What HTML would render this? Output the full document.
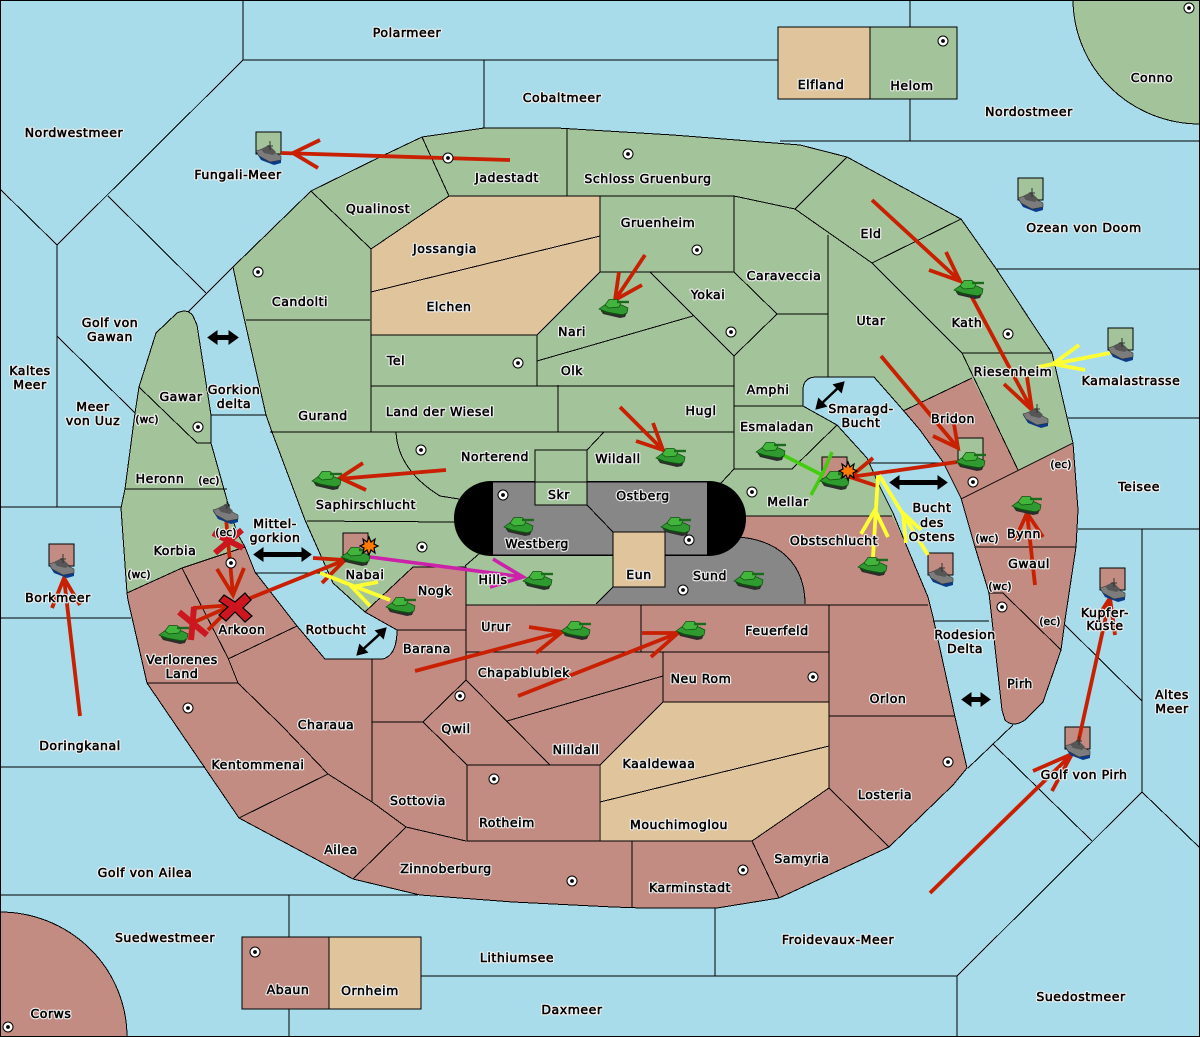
<!DOCTYPE html>
<html><head><meta charset="utf-8"><style>
html,body{margin:0;padding:0;background:#a8dcea}
svg{display:block}
text{font-family:"DejaVu Sans","Liberation Sans",sans-serif;font-size:12.5px;letter-spacing:.55px;text-anchor:middle;fill:#050505;stroke-linejoin:round}
text.s{font-size:10.5px;letter-spacing:.2px}
.l{fill:none;stroke:#000;stroke-width:1;shape-rendering:crispEdges}
.r{fill:none;stroke:#c82000;stroke-width:3.8}
.y{fill:none;stroke:#ffff33;stroke-width:3.8}
.g{fill:none;stroke:#44cc11;stroke-width:3.6}
.m{fill:none;stroke:#cc22aa;stroke-width:3.6}
.x{fill:none;stroke:#cc1620;stroke-width:6}
</style></head><body>
<svg xmlns="http://www.w3.org/2000/svg" xmlns:xlink="http://www.w3.org/1999/xlink" width="1200" height="1037" viewBox="0 0 1200 1037">
<defs>
<g id="tank">
<path d="M1,10 L4,15 L21,19 L26,18 L29,11 Z" fill="#2c2c2c"/>
<path d="M0,10 L7,5 L23,6 L29,9 L28,14 L23,16 L8,13 Z" fill="#2f9a2f" stroke="#124f12" stroke-width=".7"/>
<path d="M6,6 L10,0.500 L18,0.500 L22,4 L20,8 L10,9 Z" fill="#42b53c" stroke="#124f12" stroke-width=".7"/>
<path d="M18,3 L30,3" stroke="#1c6a1c" stroke-width="2.400" fill="none"/>
<path d="M2,12 L9,14 L25,16" stroke="#124f12" fill="none"/>
</g>
<g id="ship">
<path d="M0,10 L5,18 L18,23 L25,21 L25,17 Z" fill="#0a3a8a"/>
<path d="M0,9 L10,6 L25,14 L25,18 L14,20 L3,14 Z" fill="#7c7c7c" stroke="#333" stroke-width=".6"/>
<path d="M5,7 L13,3 L20,10 L17,13 L8,11 Z" fill="#565656"/>
<path d="M14,-1 L14,8 M11,4 L17,4" stroke="#333" fill="none"/>
</g>
<g id="dot"><circle r="5" fill="#fff" stroke="#000" stroke-width="1"/><circle r="1.900" fill="#000"/></g>
<polygon id="star" points="0,-9 2,-4 6,-7 5,-2 9,0 5,2 6,7 2,4 0,9 -2,4 -6,7 -5,2 -9,0 -5,-2 -6,-7 -2,-4" fill="#ff7a00" stroke="#000" stroke-width="1.200"/>
</defs>
<rect width="1200" height="1037" fill="#a8dcea"/>
<path fill="#a3c49a" d="M233,267 L311,191 L380,157 L422,137 L484,128 L557,128 L673,135 L800,145 L847,157 L961,219 L997,270 L1052,353 L1073,443 L1078,510 L1076,547 L1065,620 L1061,650 L1043,702 L1025,720 Q1013,728 1005,720 L1002,710 L989,593 L975,547 L961,498 L943,462 L920,430 L903,410 L874,377 L815,377 Q803,378 803,390 L803,406 L837,425 L867,458 L880,487 L893,513 L907,547 L928,597 L933,617 L955,717 L967,768 L953,785 L889,847 L779,898 L717,908 L643,908 L613,907 L513,902 L420,895 L353,879 L239,818 L147,683 L128,600 L127,593 L121,508 L125,489 L135,413 L139,387 L156,333 L177,313 Q188,308 193,316 L197,325 L211,415 L211,443 L227,500 L237,533 L245,547 L255,572 L297,626 L325,659 L383,659 Q397,655 397,630 L365,612 L333,583 L305,520 L272,432 L266,415 L240,300 Z"/>
<g fill="#c28c82">
<path d="M127,593 L182,568 L245,547 L255,572 L297,626 L325,659 L383,659 Q397,655 397,630 L365,612 L413,567 L466,567 L466,605 L596,604 L613,587 L665,555 L707,555 L745,516 L892,516 L907,547 L928,597 L933,617 L955,717 L967,768 L953,785 L889,847 L779,898 L717,908 L643,908 L613,907 L513,902 L420,895 L353,879 L239,818 L147,683 L128,600 Z"/>
<path d="M903,411 L972,378 L1018,470 L961,499 L943,462 L920,430 Z"/>
<path d="M961,499 L1018,470 L1073,443 L1078,510 L1076,547 L1065,620 L1061,650 L1043,702 L1025,720 Q1013,728 1005,720 L1002,710 L989,593 L975,547 Z"/>
<path d="M0,912 A127,125 0 0 1 127,1037 L0,1037 Z"/>
<rect x="242" y="937" width="87" height="72"/>
</g>
<path d="M1073,0 A127,125 0 0 0 1200,124 L1200,0 Z" fill="#a3c49a"/>
<g fill="#e0c49c">
<polygon points="449,196 600,196 600,272 537,335 371,335 371,249"/>
<polygon points="663,702 829,702 829,788 752,841 599,841 599,765"/>
<rect x="778" y="27" width="92" height="72"/>
<rect x="329" y="937" width="92" height="72"/>
</g>
<rect x="870" y="27" width="87" height="72" fill="#a3c49a"/>
<path d="M665,555 L707,555 L738,537 C780,540 805,565 805,604 L596,604 L613,587 L665,587 Z" fill="#878787"/>
<rect x="454" y="481" width="292" height="75" rx="37" ry="37" fill="#000"/>
<rect x="493" y="482" width="214" height="73" fill="#878787"/>
<rect x="535" y="450" width="52" height="55" fill="#a3c49a"/>
<rect x="613" y="532" width="52" height="55" fill="#e0c49c"/>
<g class="l">
<path d="M233,267 L311,191 L380,157 L422,137 L484,128 L557,128 L673,135 L800,145 L847,157 L961,219 L997,270 L1052,353 L1073,443 L1078,510 L1076,547 L1065,620 L1061,650 L1043,702 L1025,720 Q1013,728 1005,720 L1002,710 L989,593 L975,547 L961,498 L943,462 L920,430 L903,410 L874,377 L815,377 Q803,378 803,390 L803,406 L837,425 L867,458 L880,487 L893,513 L907,547 L928,597 L933,617 L955,717 L967,768 L953,785 L889,847 L779,898 L717,908 L643,908 L613,907 L513,902 L420,895 L353,879 L239,818 L147,683 L128,600 L127,593 L121,508 L125,489 L135,413 L139,387 L156,333 L177,313 Q188,308 193,316 L197,325 L211,415 L211,443 L227,500 L237,533 L245,547 L255,572 L297,626 L325,659 L383,659 Q397,655 397,630 L365,612 L333,583 L305,520 L272,432 L266,415 L240,300 Z"/>
<path d="M311,191 L371,249 L449,196 M422,137 L449,196 M567,129 L567,196 M449,196 L734,196 L795,209 L847,157 M795,209 L872,263 L961,219 M600,196 L600,272 L734,272 L734,196 M600,272 L537,335 M650,272 L734,356 L777,314 L734,272 M537,361 L693,316 M537,335 L537,386 M371,386 L734,386 M371,249 L371,432 M371,335 L537,335 M371,292 L600,236 M734,356 L734,469 L792,469 L837,425 M734,406 L803,406 M777,314 L828,314 M828,235 L828,377 M872,263 L917,308 L962,353 L1052,353 M962,353 L1018,470 M903,411 L972,378 M961,499 L1073,443 M975,547 L1076,547 M989,593 L1003,593 L1061,650"/>
<path d="M270,432 L734,432 M558,385 L558,432 M246,320 L370,320 M396,432 Q398,470 440,496 L459,499 M307,521 L455,522 M604,432 L587,450 M465,566 L480,553 M734,469 L721,483 M587,505 L613,532"/>
<path d="M535,450 H587 V505 H535 Z M613,532 H665 V587 H613 Z M493,482 H707 M493,555 H613 M665,555 H707"/>
<path d="M127,593 L182,568 L245,547 M365,612 L413,567 L466,567 L466,605 M596,604 L613,587 M745,516 L892,516 M738,537 C780,540 805,565 805,604"/>
<path d="M466,605 L466,680 M466,652 L829,652 M641,605 L641,652 M466,605 L928,605 M663,652 L663,702 L829,702 M829,605 L829,788 M829,716 L955,716 M397,630 L466,630 M466,680 L423,722 L467,765 L550,765 L466,680 M507,721 L663,676 M663,702 L600,765 L467,765 M467,765 L467,841 L752,841 M600,765 L600,841 M372,722 L423,722 M372,659 L372,802 M328,774 L372,802 L406,827 L466,841 M406,827 L353,879 M239,818 L328,774 M147,683 L238,683 L283,727 L328,774 M228,659 L297,626 M182,568 L228,658 L238,683 M632,841 L632,908 M752,841 L779,898 M829,788 L889,847 M752,841 L829,788 M600,802 L829,746"/>
<path d="M139,387 L197,443 L211,443 M125,489 L227,489"/>
<path d="M243,0 L243,60 L778,60 M243,60 L57,245 L0,189 M108,196 L206,293 M233,267 L188,312 M57,245 L57,507 M57,336 L135,413 M0,507 L121,507 M0,618 L131,618 M0,767 L205,767 M0,895 L418,895 M289,895 L289,937 M289,1009 L289,1037 M421,976 L957,976 M715,908 L715,976 M957,976 L957,1037 M957,976 L1142,792 L1200,848 M1142,529 L1142,792 M1078,529 L1200,529 M1068,418 L1200,418 M997,269 L1200,269 M780,141 L1200,141 M910,0 L910,27 M910,99 L910,141 M484,60 L484,128 M1065,625 L1142,701 M1013,725 L968,768 M993,744 L1092,841 M933,621 L989,621 M868,463 L947,463 M211,415 L266,415 M255,573 L327,573"/>
<path d="M1073,0 A127,125 0 0 0 1200,124 M0,912 A127,125 0 0 1 127,1037"/>
<path d="M778,27 H957 V99 H778 Z M870,27 V99 M242,937 H421 V1009 H242 Z M329,937 V1009"/>
</g>
<rect x=".5" y=".5" width="1199" height="1036" fill="none" stroke="#000"/>
<g stroke="#000" stroke-width="1" shape-rendering="crispEdges">
<rect x="256" y="132" width="25" height="22" fill="#a3c49a"/>
<rect x="1018" y="178" width="25" height="22" fill="#a3c49a"/>
<rect x="1108" y="328" width="25" height="22" fill="#a3c49a"/>
<rect x="958" y="438" width="25" height="22" fill="#a3c49a"/>
<rect x="49" y="544" width="25" height="22" fill="#c28c82"/>
<rect x="343" y="533" width="25" height="22" fill="#c28c82"/>
<rect x="822" y="457" width="25" height="22" fill="#c28c82"/>
<rect x="928" y="553" width="25" height="22" fill="#c28c82"/>
<rect x="1100" y="568" width="25" height="22" fill="#c28c82"/>
<rect x="1065" y="727" width="25" height="22" fill="#c28c82"/>
</g>
<g fill="#000" stroke="#000" stroke-linejoin="miter">
<path d="M208,337.500 L217,331 L217,335.500 L229,335.500 L229,331 L238,337.500 L229,344 L229,339.500 L217,339.500 L217,344 Z"/>
<path d="M254,554.500 L263,548 L263,552.500 L302,552.500 L302,548 L311,554.500 L302,561 L302,556.500 L263,556.500 L263,561 Z"/>
<path d="M890,482.500 L899,476 L899,480.500 L938,480.500 L938,476 L947,482.500 L938,489 L938,484.500 L899,484.500 L899,489 Z"/>
<path d="M962,699.500 L971,693 L971,697.500 L981,697.500 L981,693 L990,699.500 L981,706 L981,701.500 L971,701.500 L971,706 Z"/>
</g>
<path d="M360,652 L382,632 M358,654 L366,652 L360,646 Z M385,629 L377,631 L383,637 Z M819,406 L840,386 M817,408 L825,406 L819,400 Z M843,383 L835,385 L841,391 Z" fill="#000" stroke="#000" stroke-width="2.500"/>
<g>
<path class="r" d="M510,160 L281,153 M320,140 L293,153 L318,168"/>
<path class="r" d="M446,470 L338,479 M363,463 L340,478 L366,490"/>
<path class="r" d="M645,255 L615,300 M619,272 L615,300 L642,285"/>
<path class="r" d="M620,407 L663,450 M653,423 L663,450 L636,441"/>
<path class="r" d="M872,200 L960,281 M946,252 L960,281 L929,270"/>
<path class="r" d="M967,288 L1032,410 M1027,377 L1032,410 L1004,384"/>
<path class="r" d="M881,356 L958,448 M954,424 L958,448 L933,436"/>
<path class="r" d="M957,462 L850,477 M873,458 L850,477 L877,486"/>
<path class="r" d="M1035,585 L1027,513 M1015,540 L1027,513 L1043,537"/>
<path class="r" d="M1077,748 L1110,598 M1097,618 L1110,598 L1115,635"/>
<path class="r" d="M930,893 L1072,754 M1033,771 L1072,754 L1052,791"/>
<path class="r" d="M80,716 L64,578 M52,608 L64,578 L80,605"/>
<path class="r" d="M233,605 L345,560 M313,558 L345,560 L322,583"/>
<path class="r" d="M192,623 L233,605 M193,608 L233,605 L208,630"/>
<path class="r" d="M226,518 L233,595 M217,569 L233,595 L244,568"/>
<path class="r" d="M415,671 L562,632 M529,627 L562,632 L536,653"/>
<path class="r" d="M518,696 L678,633 M642,633 L678,633 L651,657"/>
<path class="x" d="M215,553 L242,530 M213,533 L243,548 M179,612 L207,635 M194,607 L191,640"/>
<path d="M224,595 L235,602 L245,593 L251,600 L243,608 L252,616 L245,622 L235,612 L226,621 L219,615 L228,607 L219,601 Z" fill="#cc1620" stroke="#000" stroke-width="1.200"/>
<path class="y" d="M1110,353 L1038,367 M1079,345 L1053,364 L1085,370"/>
<path class="y" d="M390,600 L320,573 M378,582 L352,587 L370,606"/>
<path class="y" d="M873,557 L878,476 M861,534 L875,510 L888,537"/>
<path class="y" d="M928,555 L879,475 M906,543 L903,513 L921,530"/>
<path class="g" d="M783,455 L822,475 M832,452 L822,475 L811,495"/>
<path class="m" d="M370,557 L523,577 M493,559 L523,577 L490,587"/>
</g>
<g>
<use xlink:href="#tank" x="312" y="471"/><use xlink:href="#tank" x="341" y="547"/><use xlink:href="#tank" x="386" y="597"/>
<use xlink:href="#tank" x="159" y="625"/><use xlink:href="#tank" x="599" y="299"/><use xlink:href="#tank" x="656" y="448"/>
<use xlink:href="#tank" x="504" y="517"/><use xlink:href="#tank" x="661" y="517"/><use xlink:href="#tank" x="523" y="571"/>
<use xlink:href="#tank" x="734" y="571"/><use xlink:href="#tank" x="756" y="442"/><use xlink:href="#tank" x="820" y="471"/>
<use xlink:href="#tank" x="956" y="452"/><use xlink:href="#tank" x="858" y="557"/><use xlink:href="#tank" x="1012" y="496"/>
<use xlink:href="#tank" x="954" y="280"/><use xlink:href="#tank" x="561" y="621"/><use xlink:href="#tank" x="676" y="621"/>
<use xlink:href="#ship" x="256" y="142"/><use xlink:href="#ship" x="1018" y="189"/><use xlink:href="#ship" x="1108" y="339"/>
<use xlink:href="#ship" x="1023" y="405"/><use xlink:href="#ship" x="49" y="555"/><use xlink:href="#ship" x="213" y="501"/>
<use xlink:href="#ship" x="928" y="564"/><use xlink:href="#ship" x="1100" y="579"/><use xlink:href="#ship" x="1065" y="737"/>
<use xlink:href="#star" x="369" y="546"/><use xlink:href="#star" x="848" y="471"/>
</g>
<g>
<use xlink:href="#dot" x="448" y="158"/><use xlink:href="#dot" x="628" y="154"/><use xlink:href="#dot" x="697" y="250"/>
<use xlink:href="#dot" x="943" y="41"/><use xlink:href="#dot" x="258" y="272"/><use xlink:href="#dot" x="1008" y="334"/>
<use xlink:href="#dot" x="518" y="363"/><use xlink:href="#dot" x="731" y="332"/><use xlink:href="#dot" x="198" y="427"/>
<use xlink:href="#dot" x="421" y="450"/><use xlink:href="#dot" x="503" y="495"/><use xlink:href="#dot" x="973" y="482"/>
<use xlink:href="#dot" x="752" y="492"/><use xlink:href="#dot" x="422" y="547"/><use xlink:href="#dot" x="689" y="540"/>
<use xlink:href="#dot" x="683" y="590"/><use xlink:href="#dot" x="231" y="563"/><use xlink:href="#dot" x="460" y="696"/>
<use xlink:href="#dot" x="1002" y="607"/><use xlink:href="#dot" x="813" y="677"/><use xlink:href="#dot" x="948" y="762"/>
<use xlink:href="#dot" x="188" y="708"/><use xlink:href="#dot" x="494" y="779"/><use xlink:href="#dot" x="572" y="881"/>
<use xlink:href="#dot" x="743" y="870"/><use xlink:href="#dot" x="255" y="952"/><use xlink:href="#dot" x="8" y="1027"/>
<use xlink:href="#dot" x="1189" y="8"/>
</g>
<g style="stroke:#f0f0f0;stroke-width:2.8px;paint-order:stroke">
<g id="labels">
<text x="407" y="37">Polarmeer</text><text x="562" y="102">Cobaltmeer</text><text x="821" y="89">Elfland</text><text x="912" y="90">Helom</text>
<text x="1152" y="82">Conno</text><text x="1029" y="116">Nordostmeer</text><text x="74" y="137">Nordwestmeer</text><text x="238" y="179">Fungali-Meer</text>
<text x="507" y="182">Jadestadt</text><text x="648" y="183">Schloss Gruenburg</text><text x="1084" y="232">Ozean von Doom</text><text x="378" y="213">Qualinost</text>
<text x="445" y="253">Jossangia</text><text x="658" y="227">Gruenheim</text><text x="871" y="238">Eld</text><text x="784" y="280">Caraveccia</text>
<text x="708" y="299">Yokai</text><text x="300" y="306">Candolti</text><text x="449" y="311">Elchen</text><text x="572" y="336">Nari</text>
<text x="871" y="325">Utar</text><text x="967" y="327">Kath</text><text x="110" y="327">Golf von</text><text x="110" y="341">Gawan</text>
<text x="396" y="365">Tel</text><text x="572" y="375">Olk</text><text x="30" y="375">Kaltes</text><text x="30" y="389">Meer</text>
<text x="1131" y="385">Kamalastrasse</text><text x="1013" y="376">Riesenheim</text><text x="768" y="394">Amphi</text><text x="234" y="394">Gorkion</text>
<text x="234" y="408">delta</text><text x="181" y="401">Gawar</text><text x="93" y="411">Meer</text><text x="93" y="425">von Uuz</text>
<text class="s" x="147" y="423">(wc)</text><text x="440" y="416">Land der Wiesel</text><text x="323" y="420">Gurand</text><text x="701" y="415">Hugl</text>
<text x="861" y="413">Smaragd-</text><text x="861" y="427">Bucht</text><text x="953" y="423">Bridon</text><text x="777" y="431">Esmaladan</text>
<text x="495" y="461">Norterend</text><text x="618" y="463">Wildall</text><text class="s" x="1061" y="468">(ec)</text><text x="160" y="483">Heronn</text>
<text class="s" x="209" y="484">(ec)</text><text x="1139" y="491">Teisee</text><text x="643" y="500">Ostberg</text><text x="559" y="499">Skr</text>
<text x="788" y="506">Mellar</text><text x="366" y="509">Saphirschlucht</text><text x="932" y="512">Bucht</text><text x="932" y="527">des</text>
<text x="932" y="541">Ostens</text><text x="1024" y="538">Bynn</text><text class="s" x="987" y="542">(wc)</text><text x="537" y="548">Westberg</text>
<text x="275" y="528">Mittel-</text><text x="275" y="542">gorkion</text><text class="s" x="226" y="536">(ec)</text><text x="834" y="545">Obstschlucht</text>
<text x="175" y="555">Korbia</text><text x="1029" y="568">Gwaul</text><text x="710" y="580">Sund</text><text x="639" y="579">Eun</text>
<text x="365" y="579">Nabai</text><text x="493" y="584">Hills</text><text class="s" x="1000" y="590">(wc)</text><text class="s" x="139" y="578">(wc)</text>
<text x="435" y="595">Nogk</text><text x="58" y="602">Borkmeer</text><text x="1105" y="617">Kupfer-</text><text x="1105" y="630">Küste</text>
<text x="336" y="634">Rotbucht</text><text x="242" y="634">Arkoon</text><text x="496" y="631">Urur</text><text x="777" y="635">Feuerfeld</text>
<text class="s" x="1050" y="625">(ec)</text><text x="965" y="639">Rodesion</text><text x="965" y="653">Delta</text><text x="427" y="653">Barana</text>
<text x="182" y="664">Verlorenes</text><text x="182" y="678">Land</text><text x="524" y="677">Chapablublek</text><text x="701" y="683">Neu Rom</text>
<text x="1020" y="688">Pirh</text><text x="888" y="703">Orlon</text><text x="1172" y="699">Altes</text><text x="1172" y="713">Meer</text>
<text x="326" y="729">Charaua</text><text x="456" y="733">Qwil</text><text x="80" y="750">Doringkanal</text><text x="576" y="754">Nilldall</text>
<text x="258" y="769">Kentommenai</text><text x="659" y="768">Kaaldewaa</text><text x="1084" y="779">Golf von Pirh</text><text x="885" y="799">Losteria</text>
<text x="418" y="805">Sottovia</text><text x="507" y="827">Rotheim</text><text x="679" y="829">Mouchimoglou</text><text x="341" y="854">Ailea</text>
<text x="802" y="863">Samyria</text><text x="446" y="873">Zinnoberburg</text><text x="145" y="877">Golf von Ailea</text><text x="690" y="892">Karminstadt</text>
<text x="165" y="942">Suedwestmeer</text><text x="838" y="944">Froidevaux-Meer</text><text x="517" y="962">Lithiumsee</text><text x="288" y="994">Abaun</text>
<text x="370" y="995">Ornheim</text><text x="1081" y="1001">Suedostmeer</text><text x="572" y="1014">Daxmeer</text><text x="51" y="1018">Corws</text>
</g>
</g>
<g style="stroke:#050505;stroke-width:.55px"><use xlink:href="#labels"/></g>
</svg>
</body></html>
